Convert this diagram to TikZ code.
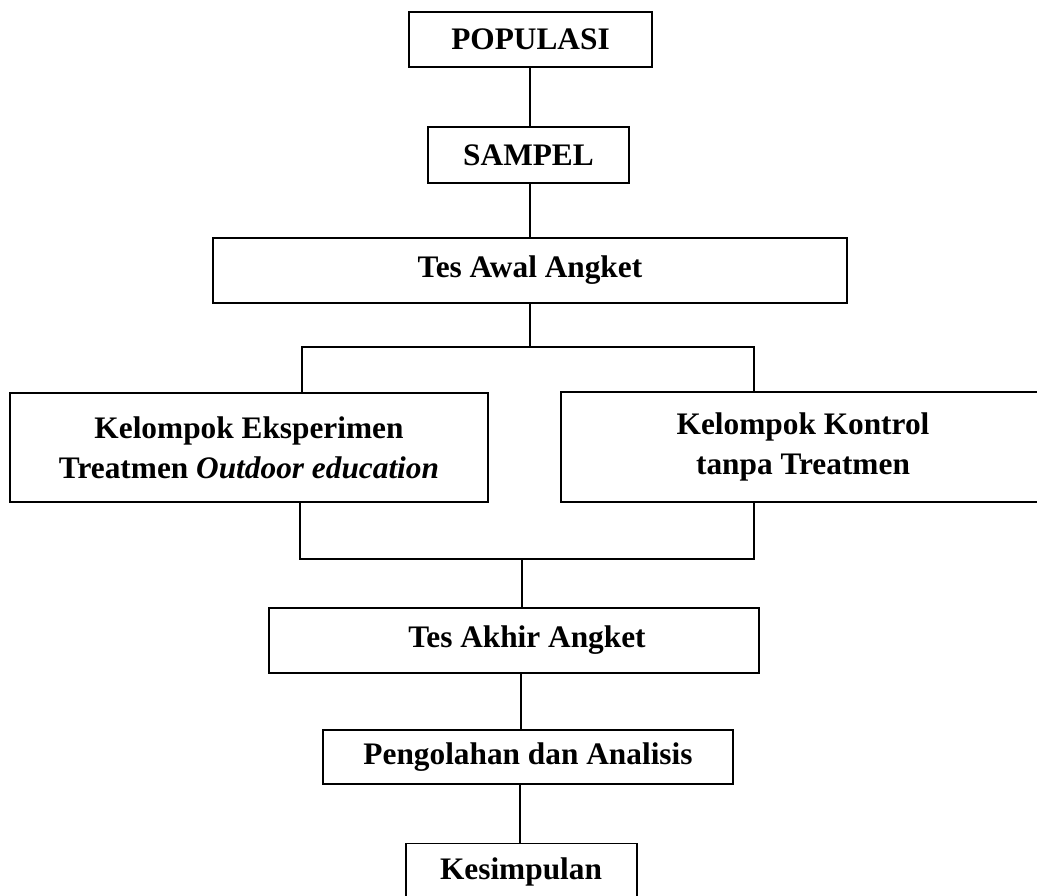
\documentclass[tikz,border=0pt]{standalone}
\usepackage{fontspec}
\setmainfont{Liberation Serif}
\begin{document}
\begin{tikzpicture}[x=0.75pt,y=-0.75pt,
  box/.style={draw,line width=1.1pt,inner sep=0pt,outer sep=0pt,align=center,
    font=\fontsize{23.5}{30}\selectfont\bfseries},
  conn/.style={line width=1.1pt}]
\useasboundingbox (0,0) rectangle (1037,895);
\node[box,minimum width=182.25pt,minimum height=41.25pt] (pop) at (530.5,39.5) {POPULASI};
\node[box,minimum width=150.75pt,minimum height=42pt] (sam) at (528.5,155) {SAMPEL};
\node[box,minimum width=475.5pt,minimum height=48.75pt] (taw) at (530,270.5) {Tes Awal Angket};
\node[box,minimum width=358.5pt,minimum height=81.75pt] (eks) at (249,447.5) {Kelompok Eksperimen\\Treatmen \textit{Outdoor education}};
\node[box,minimum width=359.25pt,minimum height=82.5pt] (kon) at (800.5,447) {};
\node[font=\fontsize{23.5}{30}\selectfont\bfseries,align=center] (kont) at (803,447) {Kelompok Kontrol\\tanpa Treatmen};
\node[box,minimum width=367.5pt,minimum height=48.75pt] (tak) at (514,640.5) {};
\node[font=\fontsize{23.5}{30}\selectfont\bfseries] (takt) at (527,640.5) {Tes Akhir Angket};
\node[box,minimum width=307.5pt,minimum height=40.5pt] (pen) at (528,757) {Pengolahan dan Analisis};
\node[box,minimum width=173.25pt,minimum height=52pt] (kes) at (521.5,878) {};
\node[font=\fontsize{23.5}{30}\selectfont\bfseries] (kest) at (521,872) {Kesimpulan};
\coordinate (s1) at (530,347);
\coordinate (sl) at (302,347);
\coordinate (sr) at (754,347);
\coordinate (j1) at (522,559);
\coordinate (jl) at (300,559);
\coordinate (jr) at (754,559);
\draw[conn] (pop.south -| 530,0) -- (sam.north -| 530,0);
\draw[conn] (sam.south -| 530,0) -- (taw.north -| 530,0);
\draw[conn] (taw.south -| s1) -- (s1);
\draw[conn] (eks.north -| sl) -- (sl) -- (sr) -- (kon.north -| sr);
\draw[conn] (eks.south -| jl) -- (jl) -- (jr) -- (kon.south -| jr);
\draw[conn] (j1) -- (tak.north -| j1);
\draw[conn] (tak.south -| 521,0) -- (pen.north -| 521,0);
\draw[conn] (pen.south -| 520,0) -- (kes.north -| 520,0);
\end{tikzpicture}
\end{document}
